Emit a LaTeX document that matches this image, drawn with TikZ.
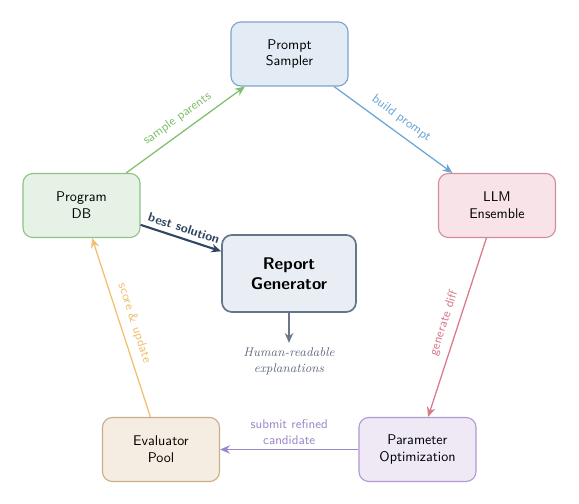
\documentclass[tikz,border=0pt]{standalone}
\usepackage{tikz}
\usetikzlibrary{positioning}
\usetikzlibrary{arrows.meta}
\definecolor{samplerfill}{HTML}{E3EBF4}
\definecolor{samplerline}{HTML}{7FA3C8}
\definecolor{llmfill}{HTML}{F8E4E8}
\definecolor{llmline}{HTML}{D38C9C}
\definecolor{dbfill}{HTML}{E6F2E6}
\definecolor{dbline}{HTML}{8FC283}
\definecolor{reportfill}{HTML}{E8EEF4}
\definecolor{reportline}{HTML}{66758A}
\definecolor{optfill}{HTML}{EFE9F6}
\definecolor{optline}{HTML}{B09AD0}
\definecolor{evalfill}{HTML}{F5EDE2}
\definecolor{evalline}{HTML}{C8AD8A}
\definecolor{greenarrow}{HTML}{80BF6C}
\definecolor{bluearrow}{HTML}{6AA6D6}
\definecolor{redarrow}{HTML}{D67A8C}
\definecolor{purplearrow}{HTML}{9B87C6}
\definecolor{orangearrow}{HTML}{F0C070}
\definecolor{navyarrow}{HTML}{2F4560}
\definecolor{graytext}{HTML}{6B7689}
\tikzset{stage/.style={draw,rounded corners=7pt,minimum width=2.925cm,minimum height=1.6cm,align=center,font=\sffamily,line width=0.8pt},
flow/.style={-{Stealth[length=7pt,width=6pt]},line width=0.9pt},
lab/.style={font=\sffamily\small,sloped,above=2pt,midway}}

\begin{document}
\begin{tikzpicture}[x=0.025cm,y=-0.025cm]
\useasboundingbox (0,0) rectangle (579,504);
\node[stage,draw=samplerline,fill=samplerfill] (sampler) at (289.5,54) {Prompt\\Sampler};
\node[stage,draw=llmline,fill=llmfill] (llm) at (497,205.5) {LLM\\Ensemble};
\node[stage,draw=dbline,fill=dbfill] (db) at (81.5,205.5) {Program\\DB};
\node[stage,draw=reportline,fill=reportfill,line width=1.2pt,minimum width=3.35cm,minimum height=1.925cm,font=\sffamily\bfseries\large] (report) at (289,273.5) {Report\\Generator};
\node[stage,draw=optline,fill=optfill] (opt) at (417.5,449.5) {Parameter\\Optimization};
\node[stage,draw=evalline,fill=evalfill] (eval) at (161,449.5) {Evaluator\\Pool};
\node[font=\itshape\small,text=graytext!90!black,align=center,below=0.75cm of report] (expl) {Human-readable\\explanations};
\draw[flow,draw=greenarrow] (db) -- (sampler) node[lab,text=greenarrow] {sample parents};
\draw[flow,draw=bluearrow] (sampler) -- (llm) node[lab,text=bluearrow] {build prompt};
\draw[flow,draw=redarrow] (llm) -- (opt) node[lab,text=redarrow] {generate diff};
\draw[flow,draw=purplearrow] (opt) -- (eval) node[midway,above,font=\sffamily\small,align=center,text=purplearrow] {submit refined\\candidate};
\draw[flow,draw=orangearrow] (eval) -- (db) node[lab,text=orangearrow] {score \& update};
\draw[flow,draw=navyarrow,line width=1.5pt] (db) -- (report) node[sloped,above,midway,font=\sffamily\bfseries\small,text=navyarrow] {best solution};
\draw[flow,draw=graytext] (report) -- (expl);
\end{tikzpicture}
\end{document}
